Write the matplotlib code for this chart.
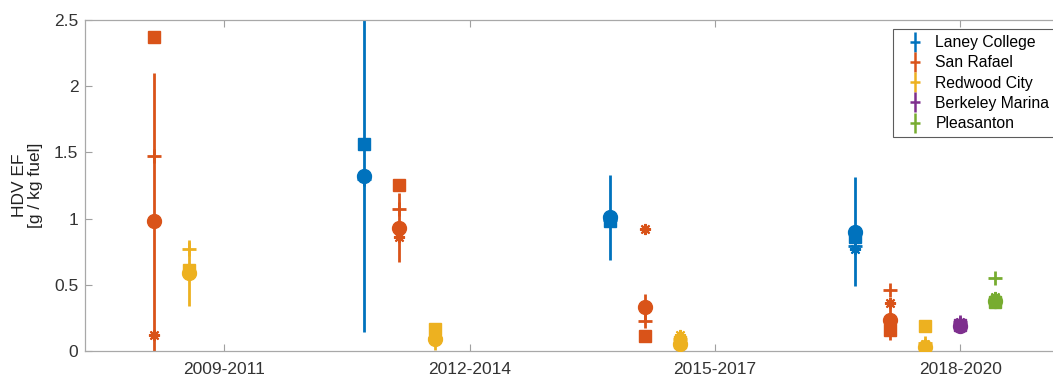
import numpy as np
import matplotlib.pyplot as plt
from matplotlib.lines import Line2D

plt.rcParams['font.family'] = ['Liberation Sans', 'DejaVu Sans']

periods = ["2009-2011", "2012-2014", "2015-2017", "2018-2020"]
sites = ["Laney College", "San Rafael", "Redwood City", "Berkeley Marina", "Pleasanton"]
colors = ["#0072BD", "#D95319", "#EDB120", "#7E2F8E", "#77AC30"]
nan = np.nan

# mean EF with its uncertainty (circle + error bar)
laney_mean = [nan, 1.32, 1.01, 0.90]
laney_err = [nan, 1.18, 0.32, 0.41]
sanrafael_mean = [0.98, 0.93, 0.33, 0.235]
sanrafael_err = [1.12, 0.26, 0.10, 0.155]
redwood_mean = [0.59, 0.09, 0.05, 0.03]
redwood_err = [0.25, 0.08, 0.05, 0.04]
berkeley_mean = [nan, nan, nan, 0.19]
berkeley_err = [nan, nan, nan, 0.02]
pleasanton_mean = [nan, nan, nan, 0.38]
pleasanton_err = [nan, nan, nan, 0.02]

# other estimates (square, plus, asterisk)
laney_sq = [nan, 1.56, 0.98, 0.86]
laney_plus = [nan, 1.30, 0.99, 0.79]
laney_ast = [nan, 1.31, 1.00, 0.77]
sanrafael_sq = [2.37, 1.25, 0.11, 0.16]
sanrafael_plus = [1.47, 1.07, 0.23, 0.46]
sanrafael_ast = [0.12, 0.86, 0.92, 0.36]
redwood_sq = [0.61, 0.165, 0.07, 0.19]
redwood_plus = [0.77, 0.10, 0.09, 0.06]
redwood_ast = [0.60, 0.12, 0.12, 0.05]
berkeley_sq = [nan, nan, nan, 0.20]
berkeley_plus = [nan, nan, nan, 0.22]
berkeley_ast = [nan, nan, nan, 0.22]
pleasanton_sq = [nan, nan, nan, 0.37]
pleasanton_plus = [nan, nan, nan, 0.55]
pleasanton_ast = [nan, nan, nan, 0.41]

means = [laney_mean, sanrafael_mean, redwood_mean, berkeley_mean, pleasanton_mean]
errs = [laney_err, sanrafael_err, redwood_err, berkeley_err, pleasanton_err]
squares = [laney_sq, sanrafael_sq, redwood_sq, berkeley_sq, pleasanton_sq]
pluses = [laney_plus, sanrafael_plus, redwood_plus, berkeley_plus, pleasanton_plus]
asts = [laney_ast, sanrafael_ast, redwood_ast, berkeley_ast, pleasanton_ast]

offsets = np.array([-3, -2, -1, 0, 1]) * 0.143
xg = np.arange(1, len(periods) + 1)

fig = plt.figure(figsize=(10.53, 3.75), dpi=100)
# axes run a bit past the right edge of the canvas
ax = fig.add_axes([0.081, 0.064, 0.931, 0.883])

handles = []
for i, site in enumerate(sites):
    x = xg + offsets[i]
    c = colors[i]
    ax.errorbar(x, means[i], yerr=errs[i], fmt='none', ecolor=c, elinewidth=2.0,
                capsize=0, zorder=2)
    ax.plot(x, squares[i], 's', color=c, ms=8, zorder=3)
    ax.plot(x, pluses[i], '+', color=c, ms=10, mew=2, zorder=3)
    ax.plot(x, asts[i], marker=(8, 2, 0), ls='none', color=c, ms=8, mew=1.5, zorder=3)
    ax.plot(x, means[i], 'o', color=c, ms=10, zorder=4)
    handles.append((Line2D([], [], color=c, marker='|', ms=14, mew=1.8, ls='none'),
                    Line2D([], [], color=c, marker='_', ms=7, mew=1.8, ls='none')))

ax.set_xlim(0.433, 4.43)
ax.set_ylim(0, 2.5)
ax.set_xticks(xg)
ax.set_xticklabels(periods)
ax.set_yticks([0, 0.5, 1, 1.5, 2, 2.5])
ax.set_yticklabels(["0", "0.5", "1", "1.5", "2", "2.5"])
ax.tick_params(direction='in', top=True, right=True, length=5, width=0.8,
               color='#a0a0a0', labelcolor='#333333', labelsize=12.5)
ax.tick_params(axis='y', pad=5)
ax.tick_params(axis='x', pad=8)
for sp in ax.spines.values():
    sp.set_color('#a8a8a8')
    sp.set_linewidth(0.9)
ax.set_ylabel("HDV EF\n[g / kg fuel]", fontsize=12.5, color='#222222', labelpad=8,
              linespacing=1.1)

leg = ax.legend(handles, sites, loc='upper left',
                bbox_to_anchor=(893 / 1053, 1 - 29 / 375), bbox_transform=fig.transFigure,
                fontsize=11.3, frameon=True, fancybox=False, handlelength=2.0,
                handletextpad=0.3, labelspacing=0.33, borderpad=0.4, borderaxespad=0)
leg.get_frame().set_edgecolor('#333333')
leg.get_frame().set_linewidth(0.8)

fig.savefig("out.png", dpi=100)
